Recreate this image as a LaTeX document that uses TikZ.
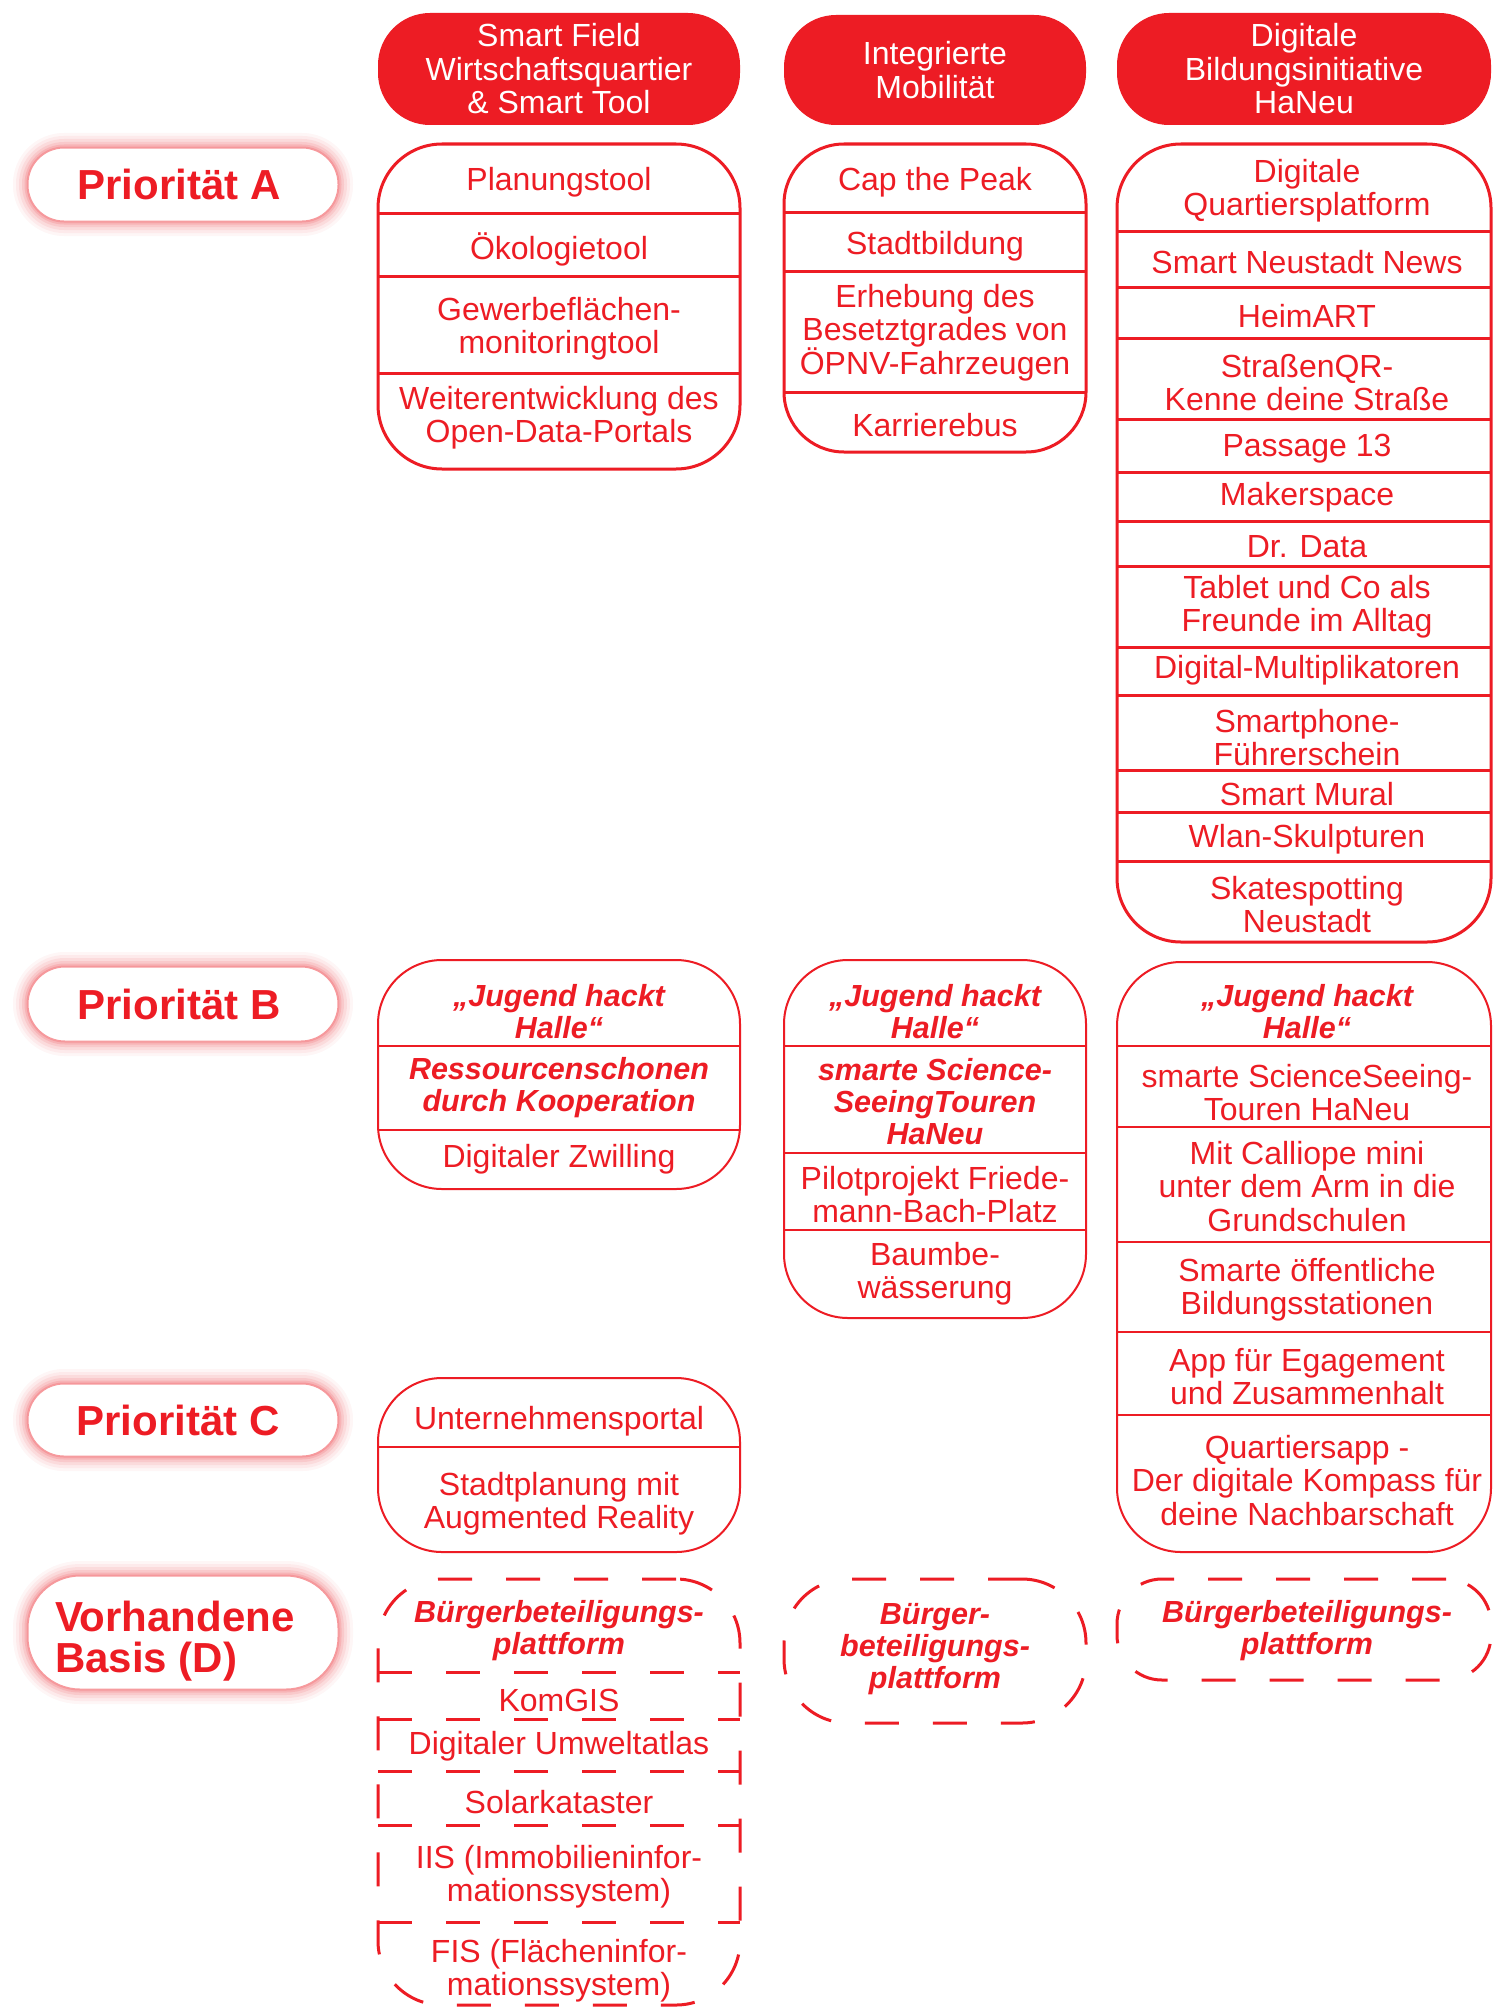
\documentclass[tikz,border=0pt]{standalone}
\usepackage{fontspec}
\setmainfont{Liberation Sans}
\definecolor{myred}{RGB}{237,28,36}
\newcommand\itemf{\fontsize{32}{33.5}\selectfont}
\newcommand\bif{\fontsize{30.5}{32}\selectfont\bfseries\itshape}
\newcommand\prif{\fontsize{42}{41}\selectfont\bfseries}
\begin{document}
\begin{tikzpicture}[x=1pt,y=-1pt,
  every node/.style={inner sep=0pt, outer sep=0pt},
  item/.style={text=myred, align=center, font=\itemf, yshift=-2.5pt},
  bitem/.style={text=myred, align=center, font=\bif, yshift=-2pt},
  hdr/.style={fill=myred, text=white, align=center, font=\itemf, rounded corners=52pt, minimum height=112pt},
  boxA/.style={draw=myred, line width=3pt},
  boxB/.style={draw=myred, line width=2pt},
  boxD/.style={draw=myred, line width=3pt, dash pattern=on 34pt off 34pt},
  divA/.style={draw=myred, line width=3pt},
  divB/.style={draw=myred, line width=2pt},
  divD/.style={draw=myred, line width=3pt, dash pattern=on 34pt off 34pt},
  prio/.style={fill=white, draw=myred!45, line width=1pt, text=myred, font=\prif, minimum width=310pt}
]
\fill[white] (0,0) rectangle (1504,2015);
\useasboundingbox (0,0) rectangle (1504,2015);

% ---------- priority labels with glow ----------
\foreach \ya/\yb/\r in {148/221/36, 967/1041/37, 1384/1456/36, 1576/1689/52}{
  \foreach \lw/\op in {30/0.04, 24/0.05, 18/0.07, 12/0.09, 7/0.12, 3/0.18}{
    \draw[myred, line width=\lw pt, opacity=\op, rounded corners=\r pt] (28,\ya) rectangle (338,\yb);
  }
}
\node[prio, rounded corners=36pt, minimum height=73pt] (PA) at (183,184.5) {\hspace*{-8pt}Priorität A};
\node[prio, rounded corners=37pt, minimum height=74pt] (PB) at (183,1004) {\hspace*{-8pt}Priorität B};
\node[prio, rounded corners=36pt, minimum height=72pt] (PC) at (183,1420) {\hspace*{-10pt}Priorität C};
\node[prio, rounded corners=52pt, minimum height=113pt] (PD) at (183,1632.5) {};
\node[text=myred, font=\prif, align=left, anchor=west] (PDt) at (55,1641) {Vorhandene\\Basis (D)};

% ---------- headers ----------
\node[hdr, minimum width=362pt] (H1) at (559,69) {Smart Field\\Wirtschaftsquartier\\\& Smart Tool};
\node[hdr, minimum width=302pt, minimum height=110pt] (H2) at (935,70) {Integrierte\\Mobilität};
\node[hdr, minimum width=374pt] (H3) at (1304,69) {Digitale\\Bildungsinitiative\\HaNeu};

% ---------- Priority A ----------
\node[boxA, rounded corners=64pt, minimum width=362pt, minimum height=325pt] (A1) at (559,306.5) {};
\foreach \y in {213,276,373} \draw[divA] (A1.west |- 0,\y) -- (A1.east |- 0,\y);
\node[item] (a11) at (559,180) {Planungstool};
\node[item] (a12) at (559,247) {Ökologietool};
\node[item] (a13) at (559,326) {Gewerbeflächen-\\monitoringtool};
\node[item] (a14) at (559,415) {Weiterentwicklung des\\Open-Data-Portals};

\node[boxA, rounded corners=60pt, minimum width=302pt, minimum height=308pt] (A2) at (935,298) {};
\foreach \y in {212,271,392} \draw[divA] (A2.west |- 0,\y) -- (A2.east |- 0,\y);
\node[item] (a21) at (935,180) {Cap the Peak};
\node[item] (a22) at (935,244) {Stadtbildung};
\node[item] (a23) at (935,330) {Erhebung des\\Besetztgrades von\\ÖPNV-Fahrzeugen};
\node[item] (a24) at (935,423) {Karrierebus};

\node[boxA, rounded corners=64pt, minimum width=374pt, minimum height=798pt] (A3) at (1304,543) {};
\foreach \y in {231,287,338,419,472,521,566,647,695,770,812,861} \draw[divA] (A3.west |- 0,\y) -- (A3.east |- 0,\y);
\node[item] (a31) at (1307,188) {Digitale\\Quartiersplatform};
\node[item] (a32) at (1307,260) {Smart Neustadt News};
\node[item] (a33) at (1307,314) {HeimART};
\node[item] (a34) at (1307,380) {StraßenQR-\\Kenne deine Straße};
\node[item] (a35) at (1307,446) {Passage 13};
\node[item] (a36) at (1307,495) {Makerspace};
\node[item] (a37) at (1307,544) {Dr. Data};
\node[item] (a38) at (1307,604) {Tablet und Co als\\Freunde im Alltag};
\node[item] (a39) at (1307,668) {Digital-Multiplikatoren};
\node[item] (a310) at (1307,735) {Smartphone-\\Führerschein};
\node[item] (a311) at (1307,792) {Smart Mural};
\node[item] (a312) at (1307,837) {Wlan-Skulpturen};
\node[item] (a313) at (1307,902) {Skatespotting\\Neustadt};

% ---------- Priority B ----------
\node[boxB, rounded corners=64pt, minimum width=362pt, minimum height=229pt] (B1) at (559,1074.5) {};
\foreach \y in {1046,1130} \draw[divB] (B1.west |- 0,\y) -- (B1.east |- 0,\y);
\node[bitem] (b11) at (559,1010) {„Jugend hackt\\Halle“};
\node[bitem] (b12) at (559,1086) {Ressourcenschonen\\durch Kooperation};
\node[item] (b13) at (559,1157) {Digitaler Zwilling};

\node[boxB, rounded corners=64pt, minimum width=302pt, minimum height=358pt] (B2) at (935,1139) {};
\foreach \y in {1046,1153,1230} \draw[divB] (B2.west |- 0,\y) -- (B2.east |- 0,\y);
\node[bitem] (b21) at (935,1010) {„Jugend hackt\\Halle“};
\node[bitem] (b22) at (935,1100) {smarte Science-\\SeeingTouren\\HaNeu};
\node[item] (b23) at (935,1192) {Pilotprojekt Friede-\\mann-Bach-Platz};
\node[item] (b24) at (935,1271) {Baumbe-\\wässerung};

\node[boxB, rounded corners=64pt, minimum width=374pt, minimum height=590pt] (B3) at (1304,1257) {};
\foreach \y in {1046,1127,1242,1332,1415} \draw[divB] (B3.west |- 0,\y) -- (B3.east |- 0,\y);
\node[bitem] (b31) at (1307,1010) {„Jugend hackt\\Halle“};
\node[item] (b32) at (1307,1090) {smarte ScienceSeeing-\\Touren HaNeu};
\node[item] (b33) at (1307,1184) {Mit Calliope mini\\unter dem Arm in die\\Grundschulen};
\node[item] (b34) at (1307,1287) {Smarte öffentliche\\Bildungsstationen};
\node[item] (b35) at (1307,1374) {App für Egagement\\und Zusammenhalt};
\node[item] (b36) at (1307,1478) {Quartiersapp -\\Der digitale Kompass für\\deine Nachbarschaft};

% ---------- Priority C ----------
\node[boxB, rounded corners=64pt, minimum width=362pt, minimum height=174pt] (C1) at (559,1465) {};
\draw[divB] (C1.west |- 0,1447) -- (C1.east |- 0,1447);
\node[item] (c11) at (559,1419) {Unternehmensportal};
\node[item] (c12) at (559,1501) {Stadtplanung mit\\Augmented Reality};

% ---------- Basis D ----------
\node[boxD, rounded corners=64pt, minimum width=362pt, minimum height=426pt] (D1) at (559,1792) {};
\foreach \y in {1672,1719,1771,1825,1922} \draw[divD] (D1.west |- 0,\y) -- (D1.east |- 0,\y);
\node[bitem] (d11) at (559,1629) {Bürgerbeteiligungs-\\plattform};
\node[item] (d12) at (559,1698) {KomGIS};
\node[item] (d13) at (559,1744) {Digitaler Umweltatlas};
\node[item] (d14) at (559,1800) {Solarkataster};
\node[item] (d15) at (559,1874) {IIS (Immobilieninfor-\\mationssystem)};
\node[item] (d16) at (559,1968) {FIS (Flächeninfor-\\mationssystem)};

\node[boxD, rounded corners=64pt, minimum width=302pt, minimum height=144pt] (D2) at (935,1651) {};
\node[bitem] (d21) at (935,1647) {Bürger-\\beteiligungs-\\plattform};

\node[boxD, rounded corners=45pt, minimum width=374pt, minimum height=101pt] (D3) at (1304,1629.5) {};
\node[bitem] (d31) at (1307,1629) {Bürgerbeteiligungs-\\plattform};
\end{tikzpicture}
\end{document}
